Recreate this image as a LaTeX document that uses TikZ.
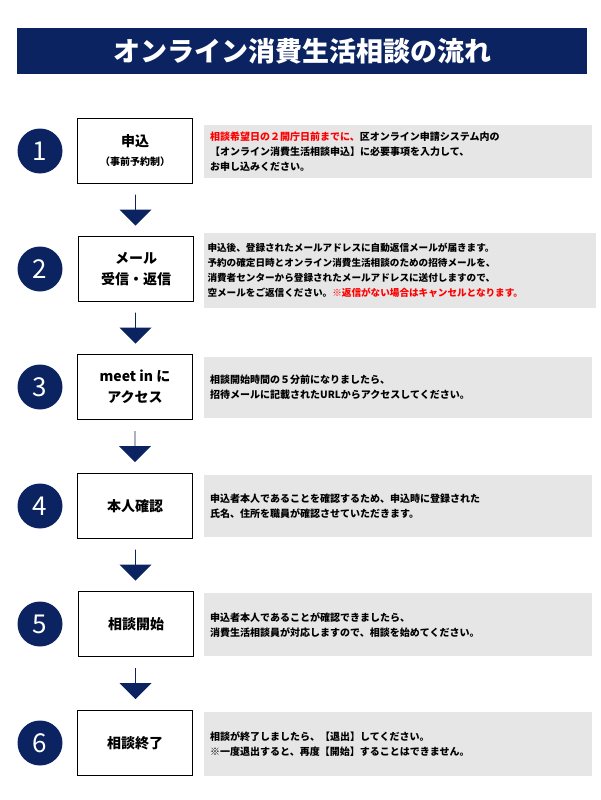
\documentclass[tikz,border=0pt]{standalone}
\usepackage{fontspec}
\setmainfont{Noto Sans CJK JP}
\usetikzlibrary{positioning,shapes.arrows}
\definecolor{navy}{HTML}{0B2461}
\definecolor{panel}{HTML}{E6E6E6}
\newcommand{\red}[1]{\textcolor{red}{#1}}

\begin{document}
\begin{tikzpicture}[x=1pt,y=-1pt,
  numdot/.style={circle, fill=navy, minimum size=45pt, inner sep=0pt, text=white, font=\fontsize{26}{26}\selectfont},
  stepbox/.style={draw, thick, minimum width=115pt, minimum height=65pt, align=center, font=\bfseries\fontsize{14}{21}\selectfont},
  note/.style={fill=panel, anchor=north west, minimum width=388pt, text width=376pt, align=left, font=\bfseries\fontsize{10}{15}\selectfont},
  downarrow/.style={single arrow, fill=navy, shape border rotate=270, minimum height=31pt, minimum width=32pt, single arrow head extend=9pt, inner sep=0pt}]

      \useasboundingbox (0,0) rectangle (600,800);

          %%  title bar %%
      \node (title) at (302,51) [fill=navy, minimum width=570pt, minimum height=46pt, text=white, font=\bfseries\fontsize{27}{27}\selectfont] {オンライン消費生活相談の流れ};

      \foreach \n/\y in {1/151,2/269,3/387,4/506,5/624,6/743}
      { \node (c\n) at (40,\y) [numdot] {\n};}

      \node (s1) at (135,151) [stepbox] {申込\\[-2pt]{\fontsize{10}{12}\selectfont（事前予約制）}};
      \node (s2) at (136,269) [stepbox] {メール\\受信・返信};
      \node (s3) at (135,387) [stepbox] {meet in に\\アクセス};
      \node (s4) at (135,506) [stepbox] {本人確認};
      \node (s5) at (136,624) [stepbox] {相談開始};
      \node (s6) at (135,743) [stepbox] {相談終了};

      \node (n1) at (204,125) [note, minimum height=53pt] {\red{相談希望日の２開庁日前までに、}区オンライン申請システム内の\\【オンライン消費生活相談申込】に必要事項を入力して、\\お申し込みください。};
      \node (n2) at (204,233) [note, minimum height=75pt, text width=385pt, font=\bfseries\fontsize{9.6}{15}\selectfont] {申込後、登録されたメールアドレスに自動返信メールが届きます。\\予約の確定日時とオンライン消費生活相談のための招待メールを、\\消費者センターから登録されたメールアドレスに送付しますので、\\空メールをご返信ください。\red{※返信がない場合はキャンセルとなります。}};
      \node (n3) at (204,357) [note, minimum height=61pt] {相談開始時間の５分前になりましたら、\\招待メールに記載されたURLからアクセスしてください。};
      \node (n4) at (204,475) [note, minimum height=62pt] {申込者本人であることを確認するため、申込時に登録された\\氏名、住所を職員が確認させていただきます。};
      \node (n5) at (204,593) [note, minimum height=63pt] {申込者本人であることが確認できましたら、\\消費生活相談員が対応しますので、相談を始めてください。};
      \node (n6) at (204,712) [note, minimum height=64pt] {相談が終了しましたら、【退出】してください。\\※一度退出すると、再度【開始】することはできません。};

      \foreach \a/\b in {1/2,2/3,3/4,4/5,5/6}
      { \path (s\a.south) -- (s\b.north) node[midway, downarrow] (a\a) {};}

        \end{tikzpicture}
\end{document}
